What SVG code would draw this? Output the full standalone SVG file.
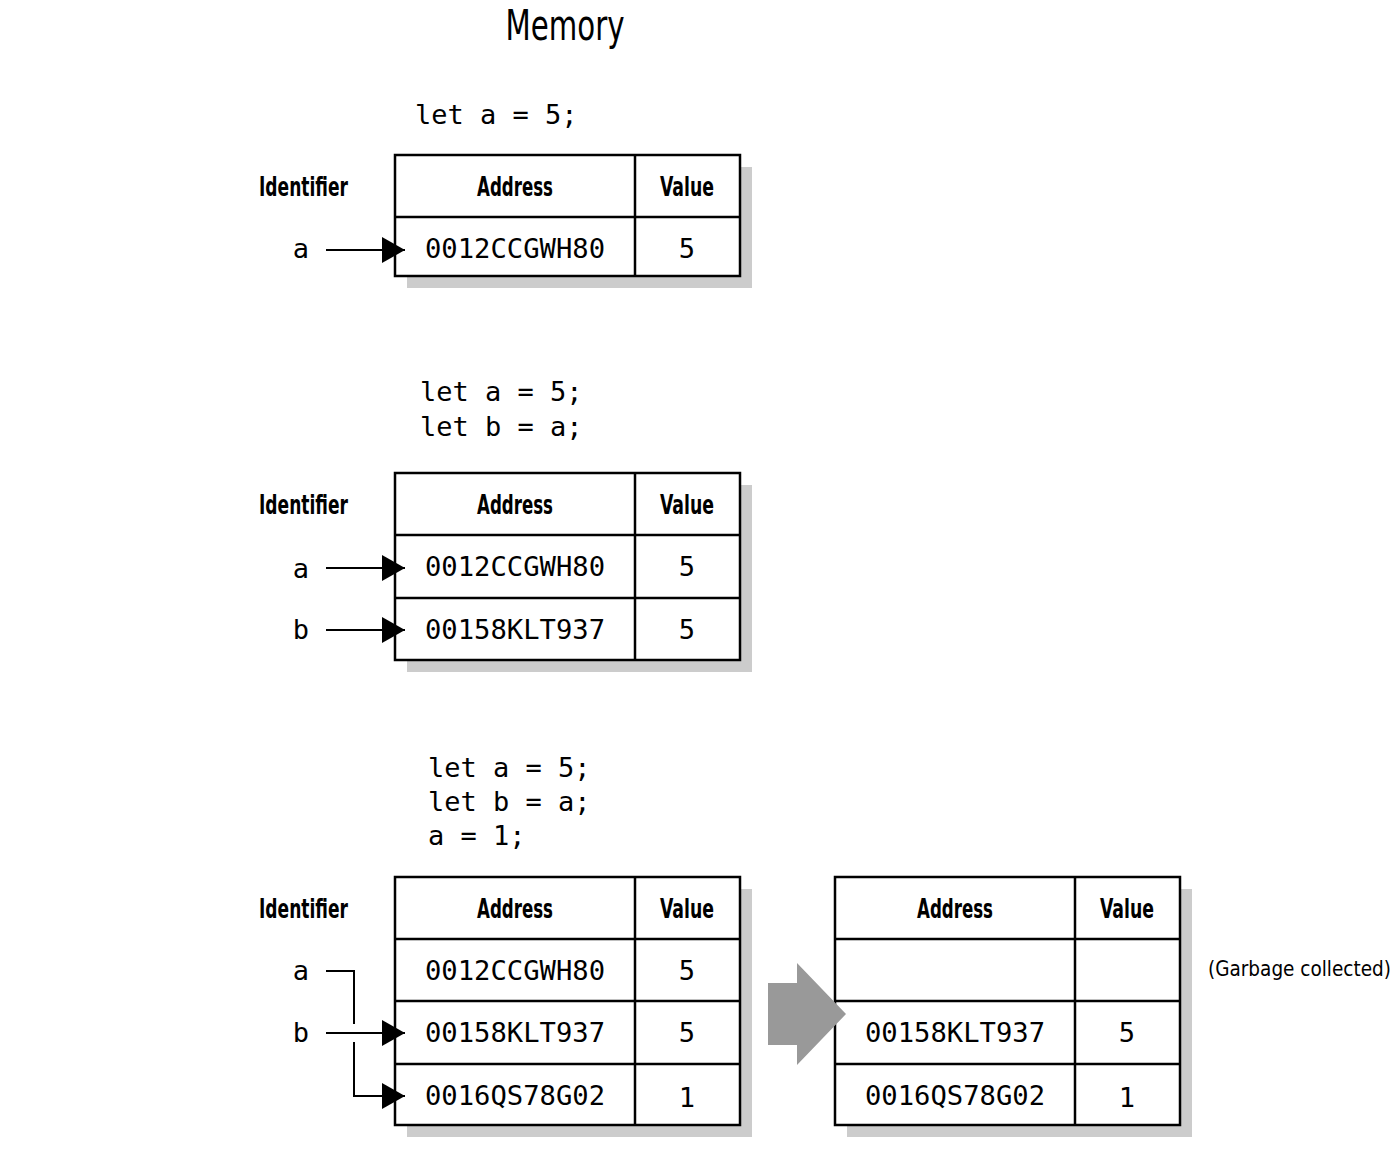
<svg xmlns="http://www.w3.org/2000/svg" width="1400" height="1150" viewBox="0 0 1400 1150">
<style>
.bg{fill:#fff}
.sh{fill:#cccccc}
.tb{fill:#fff;stroke:#000;stroke-width:2.5}
.ln{stroke:#000;stroke-width:2.5;fill:none}
.hd{font-family:"Liberation Sans Narrow","DejaVu Sans Condensed","Roboto Condensed","Liberation Sans",sans-serif;font-weight:bold;font-size:26px;font-stretch:condensed;fill:#000}
.lb{font-family:"Liberation Sans Narrow","DejaVu Sans Condensed","Roboto Condensed","Liberation Sans",sans-serif;font-size:20.5px;font-stretch:condensed;fill:#000}
.ttl{font-family:"Liberation Sans Narrow","DejaVu Sans Condensed","Roboto Condensed","Liberation Sans",sans-serif;font-size:42px;font-stretch:condensed;fill:#000}
.mono{font-family:"DejaVu Sans Mono","Liberation Mono",monospace;font-size:27px;fill:#000}
.c{text-anchor:middle}
.conn{stroke:#000;stroke-width:2;fill:none}
</style>
<defs>
<marker id="ah" markerUnits="userSpaceOnUse" markerWidth="24" markerHeight="28" refX="23" refY="13" orient="auto">
<path d="M0,0 L23,13 L0,26 z" fill="#000"/>
</marker>
</defs>
<rect class="bg" x="0" y="0" width="1400" height="1150"/>
<text id="title" class="ttl c" x="565" y="40" textLength="119" lengthAdjust="spacingAndGlyphs">Memory</text>

<!-- Scene 1 -->
<g id="code1"><text class="mono" x="415" y="124">let a = 5;</text></g>
<g id="table1">
<rect class="sh" x="407" y="167" width="345" height="121"/>
<rect class="tb" x="395" y="155" width="345" height="121"/>
<line class="ln" x1="635" y1="155" x2="635" y2="276"/>
<line class="ln" x1="395" y1="217" x2="740" y2="217"/>
<text class="hd c" x="515" y="196" textLength="76" lengthAdjust="spacingAndGlyphs">Address</text>
<text class="hd c" x="687" y="196" textLength="54" lengthAdjust="spacingAndGlyphs">Value</text>
<text class="mono c" x="515" y="258" textLength="180" lengthAdjust="spacingAndGlyphs">0012CCGWH80</text>
<text class="mono c" x="687" y="258">5</text>
</g>
<g id="ids1">
<text class="hd" x="259" y="196" textLength="89" lengthAdjust="spacingAndGlyphs">Identifier</text>
<text class="mono c" x="301" y="258">a</text>
</g>

<!-- Scene 2 -->
<g id="code2"><text class="mono" x="420" y="401">let a = 5;</text><text class="mono" x="420" y="436">let b = a;</text></g>
<g id="table2">
<rect class="sh" x="407" y="485" width="345" height="187"/>
<rect class="tb" x="395" y="473" width="345" height="187"/>
<line class="ln" x1="635" y1="473" x2="635" y2="660"/>
<line class="ln" x1="395" y1="535" x2="740" y2="535"/>
<line class="ln" x1="395" y1="598" x2="740" y2="598"/>
<text class="hd c" x="515" y="514" textLength="76" lengthAdjust="spacingAndGlyphs">Address</text>
<text class="hd c" x="687" y="514" textLength="54" lengthAdjust="spacingAndGlyphs">Value</text>
<text class="mono c" x="515" y="576" textLength="180" lengthAdjust="spacingAndGlyphs">0012CCGWH80</text>
<text class="mono c" x="687" y="576">5</text>
<text class="mono c" x="515" y="639" textLength="180" lengthAdjust="spacingAndGlyphs">00158KLT937</text>
<text class="mono c" x="687" y="639">5</text>
</g>
<g id="ids2">
<text class="hd" x="259" y="514" textLength="89" lengthAdjust="spacingAndGlyphs">Identifier</text>
<text class="mono c" x="301" y="578">a</text>
<text class="mono c" x="301" y="639">b</text>
</g>

<!-- Scene 3 -->
<g id="code3"><text class="mono" x="428" y="777">let a = 5;</text><text class="mono" x="428" y="811">let b = a;</text><text class="mono" x="428" y="845">a = 1;</text></g>
<g id="table3">
<rect class="sh" x="407" y="889" width="345" height="248"/>
<rect class="tb" x="395" y="877" width="345" height="248"/>
<line class="ln" x1="635" y1="877" x2="635" y2="1125"/>
<line class="ln" x1="395" y1="939" x2="740" y2="939"/>
<line class="ln" x1="395" y1="1001" x2="740" y2="1001"/>
<line class="ln" x1="395" y1="1064" x2="740" y2="1064"/>
<text class="hd c" x="515" y="918" textLength="76" lengthAdjust="spacingAndGlyphs">Address</text>
<text class="hd c" x="687" y="918" textLength="54" lengthAdjust="spacingAndGlyphs">Value</text>
<text class="mono c" x="515" y="980" textLength="180" lengthAdjust="spacingAndGlyphs">0012CCGWH80</text>
<text class="mono c" x="687" y="980">5</text>
<text class="mono c" x="515" y="1042" textLength="180" lengthAdjust="spacingAndGlyphs">00158KLT937</text>
<text class="mono c" x="687" y="1042">5</text>
<text class="mono c" x="515" y="1105" textLength="180" lengthAdjust="spacingAndGlyphs">0016QS78G02</text>
<text class="mono c" x="687" y="1107">1</text>
</g>
<g id="ids3">
<text class="hd" x="259" y="918" textLength="89" lengthAdjust="spacingAndGlyphs">Identifier</text>
<text class="mono c" x="301" y="980">a</text>
<text class="mono c" x="301" y="1042">b</text>
</g>

<g id="table4">
<rect class="sh" x="847" y="889" width="345" height="248"/>
<rect class="tb" x="835" y="877" width="345" height="248"/>
<line class="ln" x1="1075" y1="877" x2="1075" y2="1125"/>
<line class="ln" x1="835" y1="939" x2="1180" y2="939"/>
<line class="ln" x1="835" y1="1001" x2="1180" y2="1001"/>
<line class="ln" x1="835" y1="1064" x2="1180" y2="1064"/>
<text class="hd c" x="955" y="918" textLength="76" lengthAdjust="spacingAndGlyphs">Address</text>
<text class="hd c" x="1127" y="918" textLength="54" lengthAdjust="spacingAndGlyphs">Value</text>
<text class="mono c" x="955" y="1042" textLength="180" lengthAdjust="spacingAndGlyphs">00158KLT937</text>
<text class="mono c" x="1127" y="1042">5</text>
<text class="mono c" x="955" y="1105" textLength="180" lengthAdjust="spacingAndGlyphs">0016QS78G02</text>
<text class="mono c" x="1127" y="1107">1</text>
</g>
<g id="gc-label"><text class="lb" x="1208" y="976">(Garbage collected)</text></g>
<g id="big-arrow"><path d="M768,983 H797 V963 L846,1014 L797,1065 V1045 H768 z" fill="#999999"/></g>

<g id="connectors">
<line class="conn" x1="326" y1="250" x2="405" y2="250" marker-end="url(#ah)"/>
<line class="conn" x1="326" y1="568" x2="405" y2="568" marker-end="url(#ah)"/>
<line class="conn" x1="326" y1="630" x2="405" y2="630" marker-end="url(#ah)"/>
<path class="conn" d="M326,971 H354 V1024"/>
<line class="conn" x1="326" y1="1033" x2="405" y2="1033" marker-end="url(#ah)"/>
<path class="conn" d="M354,1042 V1096 H405" marker-end="url(#ah)"/>
</g>
</svg>
